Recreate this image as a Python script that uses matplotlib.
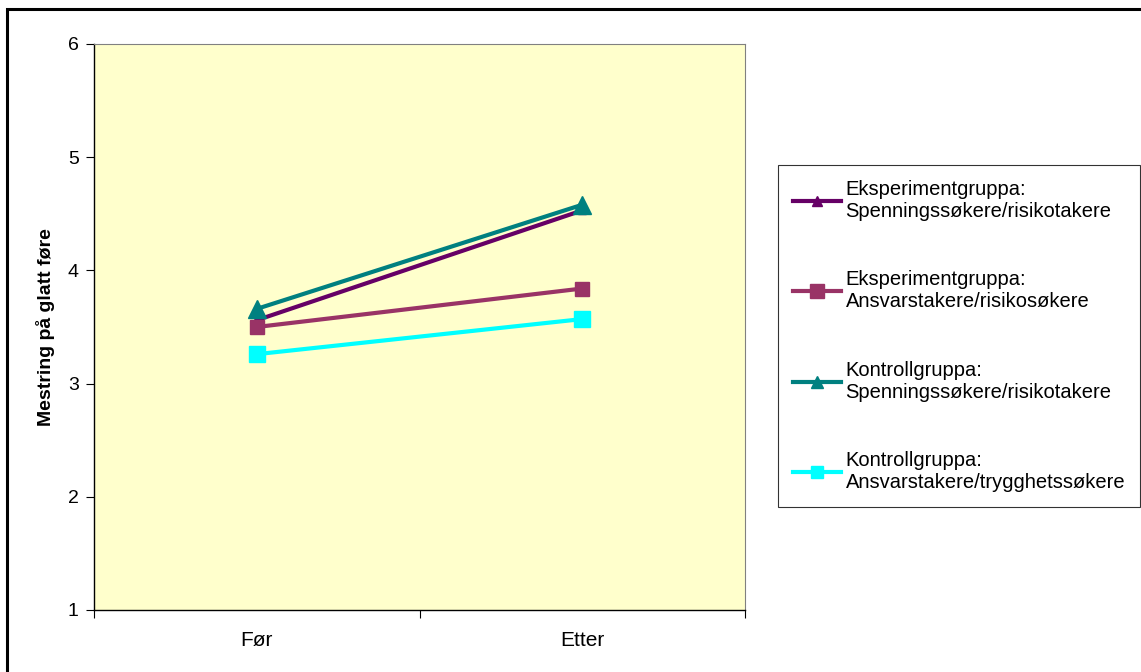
import matplotlib.pyplot as plt
from matplotlib.patches import Rectangle
from matplotlib.ticker import FixedLocator, NullFormatter, FixedFormatter

plt.rcParams["font.family"] = ["Liberation Sans", "DejaVu Sans"]

CATEGORIES = ["Før", "Etter"]
SERIES_NAMES = [
    "Eksperimentgruppa:\nSpenningssøkere/risikotakere",
    "Eksperimentgruppa:\nAnsvarstakere/risikosøkere",
    "Kontrollgruppa:\nSpenningssøkere/risikotakere",
    "Kontrollgruppa:\nAnsvarstakere/trygghetssøkere",
]
EKSP_SPENNING = [3.56, 4.53]
EKSP_ANSVAR = [3.50, 3.84]
KONTROLL_SPENNING = [3.66, 4.58]
KONTROLL_ANSVAR = [3.26, 3.57]

STYLES = [
    dict(color="#660066", marker="^", markersize=6, legend_ms=7),
    dict(color="#993366", marker="s", markersize=10, legend_ms=10),
    dict(color="#008080", marker="^", markersize=13, legend_ms=9),
    dict(color="#00FFFF", marker="s", markersize=12, legend_ms=9),
]


def main() -> None:
    fig = plt.figure(figsize=(11.41, 6.72), dpi=100)
    ax = fig.add_axes([94 / 1141, 1 - 610 / 672, (745 - 94) / 1141, (610 - 44) / 672])
    ax.set_facecolor("#FFFFCC")

    xs = [0.5, 1.5]
    series = [EKSP_SPENNING, EKSP_ANSVAR, KONTROLL_SPENNING, KONTROLL_ANSVAR]
    lines = []
    for name, values, style in zip(SERIES_NAMES, series, STYLES):
        (line,) = ax.plot(
            xs,
            values,
            color=style["color"],
            marker=style["marker"],
            markersize=style["markersize"],
            linewidth=3,
            label=name,
        )
        lines.append(line)

    ax.set_xlim(0, 2)
    ax.set_ylim(1, 6)
    ax.set_yticks([1, 2, 3, 4, 5, 6])
    ax.tick_params(axis="y", direction="out", length=6, labelsize=14, pad=5)
    ax.xaxis.set_major_locator(FixedLocator([0, 1, 2]))
    ax.xaxis.set_major_formatter(NullFormatter())
    ax.xaxis.set_minor_locator(FixedLocator(xs))
    ax.xaxis.set_minor_formatter(FixedFormatter(CATEGORIES))
    ax.tick_params(axis="x", which="major", direction="out", length=6)
    ax.tick_params(axis="x", which="minor", length=0, labelsize=15, pad=15)

    for side in ("top", "right"):
        ax.spines[side].set_color("#808080")
    for side in ("left", "bottom"):
        ax.spines[side].set_color("black")
        ax.spines[side].set_linewidth(1.0)

    ax.set_ylabel("Mestring på glatt føre", fontsize=14, fontweight="bold", labelpad=9)

    leg = fig.legend(
        handles=lines,
        loc="upper left",
        bbox_to_anchor=(778 / 1141, 1 - 165 / 672),
        fontsize=14.5,
        frameon=True,
        fancybox=False,
        edgecolor="black",
        handlelength=2.4,
        handletextpad=0.2,
        labelspacing=2.45,
        borderpad=0.75,
        borderaxespad=0,
    )
    leg.get_frame().set_linewidth(0.8)
    for handle, style in zip(leg.legend_handles, STYLES):
        handle.set_markersize(style["legend_ms"])

    fig.patches.append(
        Rectangle(
            (7 / 1141, -0.1),
            1.2,
            1 - 9 / 672 + 0.1,
            transform=fig.transFigure,
            fill=False,
            edgecolor="black",
            linewidth=2.2,
        )
    )

    fig.savefig("out.png", dpi=100)
    plt.close(fig)


if __name__ == "__main__":
    main()
